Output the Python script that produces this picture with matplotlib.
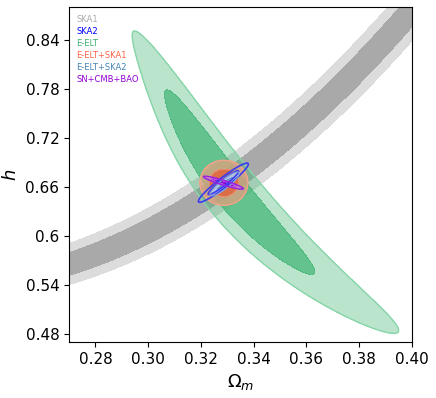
import matplotlib
matplotlib.use('Agg')
import matplotlib.pyplot as plt
import numpy as np
from matplotlib.lines import Line2D

# 2D Gaussian confidence levels (1 and 2 sigma)
levels = [0, 2.30, 6.17]

# SKA1: curved band, ridge h = a + b*e + c*e^2 with e = Om - 0.33, vertical sigma s0 + g*e
ska1_ridge = [0.665, 2.289, 10.49]
ska1_sigma = [0.0125, 0.04]

# E-ELT: banana, ridge Om = c + b*d + q*d^2 + k*d^3 with d = h - h0
eelt_h0 = 0.6656
eelt_ridge = [0.329, -0.2294, 0.437, -1.05]
eelt_sigma_h = 0.0745
eelt_sigma_om = [0.0053, 0.012]

# tilted ellipses: om0, h0, slope dh/dOm, sigma along Om, sigma across (in h)
ska2 = [0.3285, 0.665, 2.40, 0.00381, 0.00307]
eelt_ska2 = [0.3290, 0.6635, 2.35, 0.00221, 0.00277]
sn_cmb_bao = [0.3285, 0.665, -0.97, 0.00305, 0.00124]
# E-ELT+SKA1: om0, h0, sigma_om, sigma_h
eelt_ska1 = [0.3287, 0.6649, 0.00366, 0.0111]

labels = ['SKA1', 'SKA2', 'E-ELT', 'E-ELT+SKA1', 'E-ELT+SKA2', 'SN+CMB+BAO']
label_colors = ['darkgray', 'blue', 'mediumseagreen', 'tomato', 'steelblue', 'darkviolet']

xticks = [0.28, 0.30, 0.32, 0.34, 0.36, 0.38, 0.40]
yticks = [0.48, 0.54, 0.60, 0.66, 0.72, 0.78, 0.84]
yticklabels = ['0.48', '0.54', '0.6', '0.66', '0.72', '0.78', '0.84']

om = np.linspace(0.27, 0.40, 1200)
hh = np.linspace(0.47, 0.88, 1200)
OM, H = np.meshgrid(om, hh)


def tilted(p):
    om0, h0, s, sl, sc = p
    return ((H - h0 - s * (OM - om0)) / sc) ** 2 + ((OM - om0) / sl) ** 2


e = OM - 0.33
chi_ska1 = ((H - np.polyval(ska1_ridge[::-1], e)) / (ska1_sigma[0] + ska1_sigma[1] * e)) ** 2

d = H - eelt_h0
ridge = np.polyval(eelt_ridge[::-1], d)
sig_u = np.clip(eelt_sigma_om[0] - eelt_sigma_om[1] * d, 1e-4, None)
chi_eelt = ((OM - ridge) / sig_u) ** 2 + (d / eelt_sigma_h) ** 2

chi_eelt_ska1 = ((OM - eelt_ska1[0]) / eelt_ska1[2]) ** 2 + ((H - eelt_ska1[1]) / eelt_ska1[3]) ** 2

fig = plt.figure(figsize=(4.36, 3.98), dpi=100)
ax = fig.add_axes([0.1583, 0.1407, 0.7867, 0.8417])

ax.contourf(OM, H, chi_ska1, levels=levels, colors=['#a9a9a9', '#dcdcdc'])

ax.contourf(OM, H, chi_eelt, levels=levels,
            colors=[(0.235, 0.702, 0.443, 0.8), (0.235, 0.702, 0.443, 0.35)])
ax.contour(OM, H, chi_eelt, levels=[6.17], colors=['#86d6a9'], linewidths=1.0)

ax.contourf(OM, H, chi_eelt_ska1, levels=levels,
            colors=[(0.92, 0.40, 0.26, 0.9), (0.97, 0.62, 0.50, 0.65)])
ax.contour(OM, H, chi_eelt_ska1, levels=[6.17], colors=['#f2a48a'], linewidths=1.0)

ax.contour(OM, H, tilted(ska2), levels=[2.30, 6.17], colors=['#3b3bf0'], linewidths=1.2)

ax.contourf(OM, H, tilted(eelt_ska2), levels=levels,
            colors=[(0.42, 0.58, 0.80, 0.95), (0.70, 0.78, 0.90, 0.95)])
ax.contour(OM, H, tilted(eelt_ska2), levels=[6.17], colors=['#7f9fd0'], linewidths=0.8)

ax.contourf(OM, H, tilted(sn_cmb_bao), levels=levels,
            colors=[(0.58, 0.0, 0.83, 0.9), (0.75, 0.45, 0.92, 0.7)])
ax.contour(OM, H, tilted(sn_cmb_bao), levels=[6.17], colors=['#9a1ee0'], linewidths=1.0)

ax.set_xlim(0.27, 0.40)
ax.set_ylim(0.47, 0.88)
ax.set_xticks(xticks)
ax.set_yticks(yticks)
ax.set_yticklabels(yticklabels)
ax.tick_params(labelsize=11)
ax.set_xlabel(r'$\Omega_m$', fontsize=13)
ax.set_ylabel(r'$h$', fontsize=13)

handles = [Line2D([], [], linestyle='none') for _ in labels]
ax.legend(handles, labels, labelcolor=label_colors, loc='upper left', frameon=False,
          fontsize=6, handlelength=0, handletextpad=0, labelspacing=0.38)

fig.savefig('out.png', dpi=100)
